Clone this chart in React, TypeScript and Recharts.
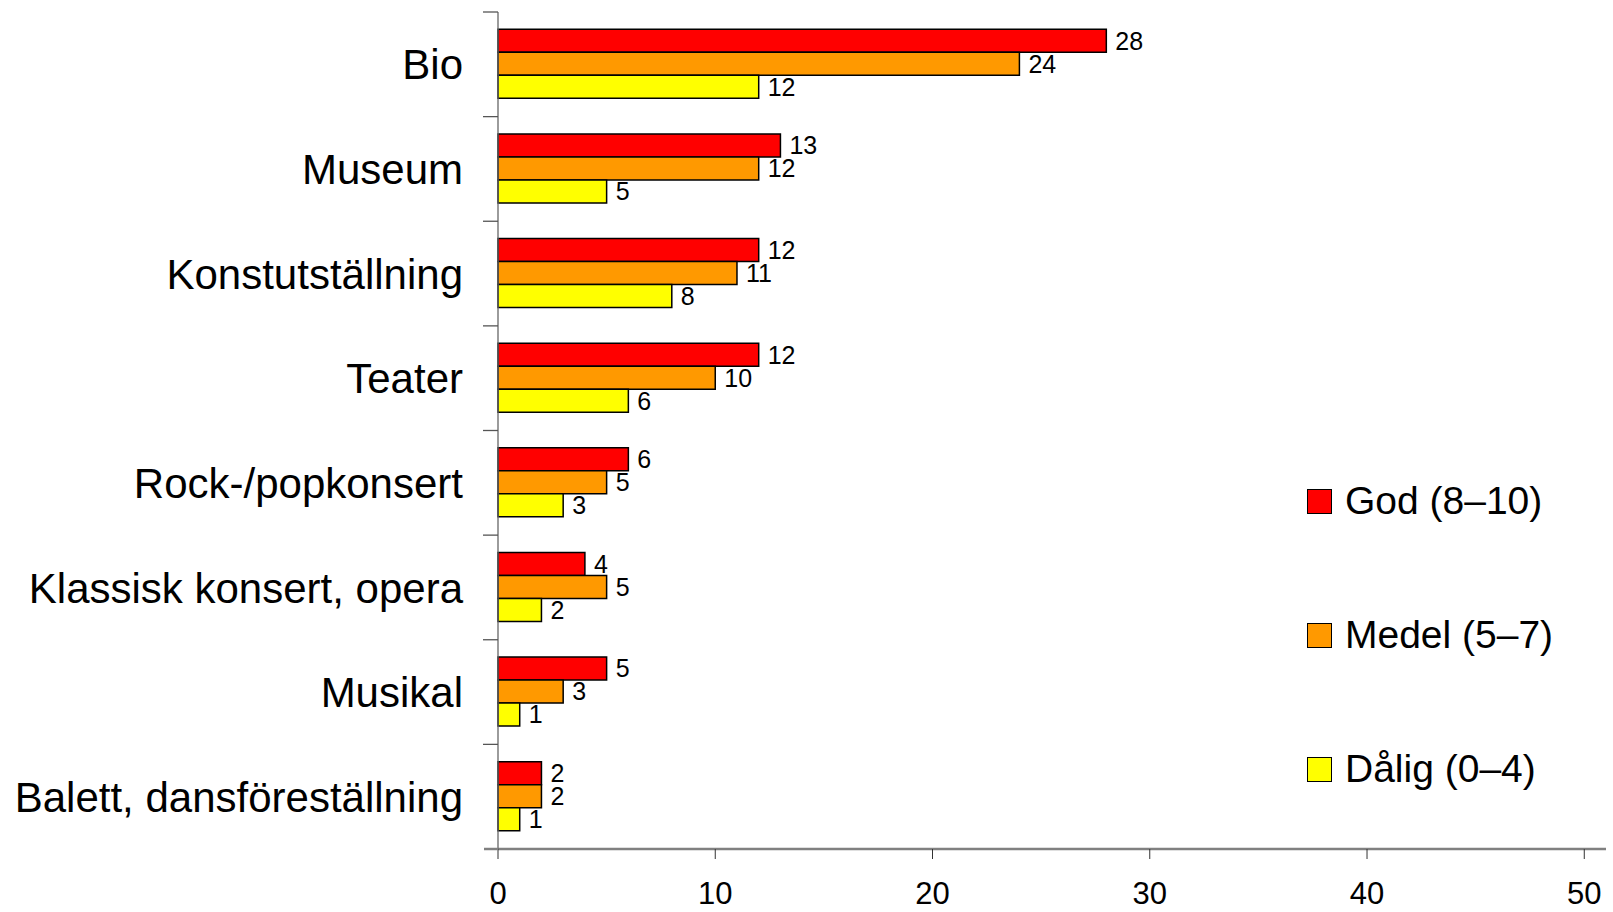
import React from "react";
import { BarChart, Bar, XAxis, YAxis, LabelList } from "recharts";

const CATEGORIES = [
  "Bio",
  "Museum",
  "Konstutställning",
  "Teater",
  "Rock-/popkonsert",
  "Klassisk konsert, opera",
  "Musikal",
  "Balett, dansföreställning",
];
const GOD = [28, 13, 12, 12, 6, 4, 5, 2];
const MEDEL = [24, 12, 11, 10, 5, 5, 3, 2];
const DALIG = [12, 5, 8, 6, 3, 2, 1, 1];
const SERIES_NAMES = ["God (8–10)", "Medel (5–7)", "Dålig (0–4)"];
const SERIES_KEYS = ["god", "medel", "dalig"];
const SERIES_COLORS = ["#FF0000", "#FF9900", "#FFFF00"];
const X_TICKS = [0, 10, 20, 30, 40, 50];
const X_DOMAIN = [0, 51];

const data = CATEGORIES.map((name, i) => ({
  name,
  god: GOD[i],
  medel: MEDEL[i],
  dalig: DALIG[i],
}));

const W = 1613;
const H = 912;
const TOP = 12;
const PLOT_LEFT = 498;
const X_AXIS_H = 63;
const PLOT_BOTTOM = H - X_AXIS_H;
const HALF_BAND = (PLOT_BOTTOM - TOP) / CATEGORIES.length / 2;
const FONT = "'Liberation Sans', Arial, sans-serif";

const YTick = (props: any) => {
  const { y, payload, index } = props;
  return (
    <g>
      <line x1={PLOT_LEFT - 15} x2={PLOT_LEFT} y1={y - HALF_BAND} y2={y - HALF_BAND} stroke="#555" strokeWidth={1.3} />
      {index === CATEGORIES.length - 1 && (
        <line x1={PLOT_LEFT - 14} x2={PLOT_LEFT} y1={y + HALF_BAND} y2={y + HALF_BAND} stroke="#808080" strokeWidth={2.5} />
      )}
      <text x={PLOT_LEFT - 35} y={y} dy="0.36em" textAnchor="end" fontSize={42} fill="#000" fontFamily={FONT}>
        {payload.value}
      </text>
    </g>
  );
};

export default function App() {
  return (
    <div style={{ position: "absolute", left: 0, top: 0, width: W, height: H, background: "#fff", fontFamily: FONT }}>
      <BarChart
        width={W}
        height={H}
        data={data}
        layout="vertical"
        margin={{ top: TOP, right: 7, bottom: 0, left: 0 }}
        barCategoryGap="16.5%"
        barGap={0}
      >
        <XAxis
          type="number"
          domain={X_DOMAIN}
          ticks={X_TICKS}
          height={X_AXIS_H}
          axisLine={{ stroke: "#808080", strokeWidth: 2.5 }}
          tickLine={{ stroke: "#333", strokeWidth: 1 }}
          tickSize={10}
          tickMargin={23}
          tick={{ fontSize: 31, fill: "#000", fontFamily: FONT }}
        />
        <YAxis
          type="category"
          dataKey="name"
          width={PLOT_LEFT}
          axisLine={{ stroke: "#666", strokeWidth: 1.3 }}
          tickLine={false}
          tick={<YTick />}
          interval={0}
        />
        {SERIES_KEYS.map((k, i) => (
          <Bar
            key={k}
            dataKey={k}
            name={SERIES_NAMES[i]}
            fill={SERIES_COLORS[i]}
            stroke="#000"
            strokeWidth={1.5}
            isAnimationActive={false}
          >
            <LabelList dataKey={k} position="right" offset={9} fontSize={25} fill="#000" fontFamily={FONT} />
          </Bar>
        ))}
      </BarChart>
      <div style={{ position: "absolute", left: 1307, top: 488 }}>
        {SERIES_NAMES.map((n, i) => (
          <div
            key={n}
            style={{ position: "absolute", left: 0, top: i * 134, height: 26, display: "flex", alignItems: "center", whiteSpace: "nowrap" }}
          >
            <div style={{ width: 25, height: 25, background: SERIES_COLORS[i], border: "1.5px solid #000", boxSizing: "border-box" }} />
            <span style={{ marginLeft: 13, fontSize: 39, color: "#000", lineHeight: "26px" }}>{n}</span>
          </div>
        ))}
      </div>
    </div>
  );
}
